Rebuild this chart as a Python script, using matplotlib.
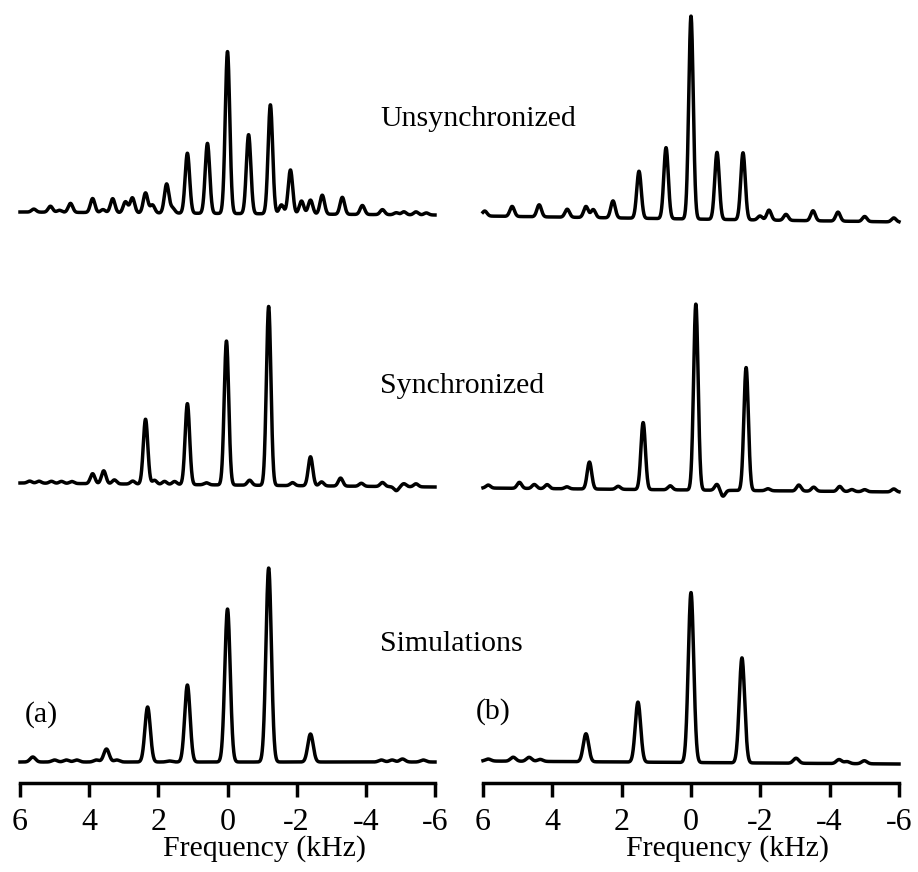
import numpy as np
import matplotlib.pyplot as plt

plt.rcParams['font.family'] = ['Liberation Serif', 'DejaVu Serif']

# line positions (kHz) and intensities
unsync_a_freq = [5.6, 5.12, 4.86, 4.54, 3.9, 3.6, 3.32, 2.95, 2.75, 2.37, 2.17, 1.76, 1.59,
                 1.16, 0.58, 0.0, -0.61, -1.24, -1.56, -1.82, -2.14, -2.4, -2.74, -3.32,
                 -3.9, -4.48, -4.88, -5.1, -5.45, -5.75]
unsync_a_int = [3, 6, 2, 9, 14, 3, 14, 11, 15, 20, 8, 29, 5,
                60, 70, 162, 79, 109, 9, 44, 13, 14, 19, 17,
                9, 5, 2, 3, 3, 2]

unsync_b_freq = [5.95, 5.16, 4.38, 3.57, 3.03, 2.82, 2.25, 1.5, 0.72, 0.0, -0.75, -1.5,
                 -1.99, -2.25, -2.74, -3.52, -4.24, -5.01, -5.85]
unsync_b_int = [5, 10, 12, 8, 11, 8, 17, 47, 71, 203, 67, 67,
                4, 10, 6, 10, 9, 5, 4]

sync_a_freq = [5.72, 5.45, 5.09, 4.8, 4.5, 3.9, 3.58, 3.27, 2.74, 2.37, 2.11, 1.82, 1.53,
               1.16, 0.61, 0.03, -0.64, -1.19, -1.88, -2.4, -2.72, -3.27, -3.87, -4.48,
               -4.88, -5.1, -5.45]
sync_a_int = [2, 2, 2, 2, 2, 10, 13, 4, 3, 65, 4, 3, 3,
              81, 2, 144, 5, 179, 3, 29, 4, 8, 3, 4,
              -4, 3, 3]

sync_b_freq = [5.85, 4.95, 4.52, 4.15, 3.58, 2.93, 2.1, 1.38, 0.6, -0.14, -0.75, -0.92,
               -1.59, -2.22, -3.11, -3.54, -4.29, -4.64, -5.01, -5.85]
sync_b_int = [3, 6, 4, 4, 2, 27, 3, 67, 4, 186, 6, -6,
              123, 2, 6, 4, 5, 2, 2, 3]

sim_a_freq = [5.63, 5.0, 4.66, 4.36, 3.79, 3.5, 3.2, 2.31, 1.68, 1.16, 0.0, -1.19, -2.4,
              -4.45, -4.76, -5.06, -5.66]
sim_a_int = [5, 2, 2, 2, 2, 13, 2, 55, 1, 77, 153, 194, 28,
             2, 2, 3, 2]

sim_b_freq = [5.85, 5.13, 4.67, 4.35, 3.03, 1.53, 0.0, -1.47, -3.03, -4.27, -4.5, -5.0]
sim_b_int = [2, 4, 4, 2, 28, 60, 170, 105, 5, 4, 2, 3]

row_titles = ['Unsynchronized', 'Synchronized', 'Simulations']
panel_labels = ['(a)', '(b)']
freq_ticks = [6, 4, 2, 0, -2, -4, -6]
tick_labels = ['6', '4', '2', '0', '-2', '-4', '-6']

W, H = 918, 872
fig = plt.figure(figsize=(W / 100, H / 100), dpi=100)

x = np.linspace(6, -6, 2400)


def spectrum(freqs, amps, width):
    y = np.zeros_like(x)
    for f, a in zip(freqs, amps):
        y += a * np.exp(-0.5 * ((x - f) / width) ** 2)
    return y


# column layout in pixels: left edge, right edge of the frequency axis
axis_y = 783
columns = [
    {'x0': 20, 'x1': 435,
     'spectra': [(unsync_a_freq, unsync_a_int, 0.065, 571, 568),
                 (sync_a_freq, sync_a_int, 0.065, 300, 296),
                 (sim_a_freq, sim_a_int, 0.078, 21, 21)]},
    {'x0': 483, 'x1': 899,
     'spectra': [(unsync_b_freq, unsync_b_int, 0.065, 567, 561),
                 (sync_b_freq, sync_b_int, 0.065, 295, 291),
                 (sim_b_freq, sim_b_int, 0.078, 22, 19)]},
]

for col in columns:
    ax = fig.add_axes([col['x0'] / W, (H - axis_y) / H,
                       (col['x1'] - col['x0']) / W, axis_y / H])
    for freqs, amps, width, b_left, b_right in col['spectra']:
        base = b_left + (b_right - b_left) * (6 - x) / 12
        ax.plot(x, base + spectrum(freqs, amps, width), color='black',
                lw=2.5, clip_on=False, solid_joinstyle='round')
    ax.set_xlim(6, -6)
    ax.set_ylim(0, axis_y)
    for side in ['top', 'left', 'right']:
        ax.spines[side].set_visible(False)
    ax.spines['bottom'].set_linewidth(2.5)
    ax.set_yticks([])
    ax.set_xticks(freq_ticks)
    ax.set_xticklabels(tick_labels, fontsize=23)
    ax.tick_params(axis='x', direction='out', length=10, width=2.5, pad=8)
    ax.set_xlabel('Frequency (kHz)', fontsize=21.5)
    ax.xaxis.set_label_coords(0.588, -0.067)
    ax.patch.set_visible(False)

# row titles and panel labels
for title, ybase in zip(row_titles, [126, 393, 651]):
    fig.text(380 / W, 1 - ybase / H, title, fontsize=21.5, ha='left', va='baseline')
for lab, (lx, ly) in zip(panel_labels, [(25, 722), (476, 719)]):
    fig.text(lx / W, 1 - ly / H, lab, fontsize=21.5, ha='left', va='baseline')

fig.savefig('out.png', dpi=100)
